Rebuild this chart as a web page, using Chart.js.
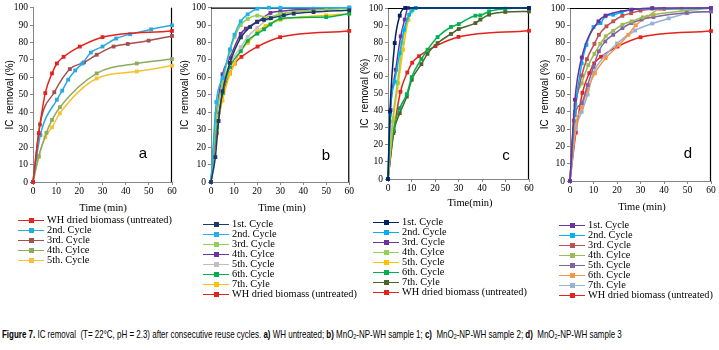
<!DOCTYPE html>
<html><head><meta charset="utf-8">
<script src="https://cdn.jsdelivr.net/npm/chart.js@4/dist/chart.umd.min.js"></script>
<style>
html,body{margin:0;padding:0;background:#fff;}
body{width:719px;height:350px;position:relative;overflow:hidden;}
canvas{position:absolute;}
.xt{position:absolute;font-family:'Liberation Serif',serif;font-size:10.5px;color:#000;white-space:nowrap;transform:translate(-50%,-50%);}
.leg{position:absolute;font-family:'Liberation Serif',serif;font-size:10.3px;line-height:10px;color:#000;}
.item{position:relative;height:10px;white-space:nowrap;}
.ln{position:absolute;left:0;top:4.5px;width:26px;height:1.5px;}
.mk{position:absolute;left:10.5px;top:2.7px;width:5px;height:5px;}
.tx{position:absolute;top:0;}
.letter{position:absolute;font-family:'Liberation Sans',sans-serif;font-size:15px;color:#000;transform:translate(-50%,-50%);}
#cap{position:absolute;left:2px;top:328px;font-family:'Liberation Sans Narrow','Liberation Sans',sans-serif;font-size:10.5px;color:#000;white-space:nowrap;transform-origin:0 0;}
#cap sub{font-size:7px;vertical-align:-1px;}
</style></head><body>
<div id="cap"><b>Figure 7.</b> IC removal &nbsp;(T= 22°C, pH = 2.3) after consecutive reuse cycles. <b>a)</b> WH untreated; <b>b)</b> MnO<sub>2</sub>-NP-WH sample 1; <b>c)</b> &nbsp;MnO<sub>2</sub>-NP-WH sample 2; <b>d)</b> &nbsp;MnO<sub>2</sub>-NP-WH sample 3</div>
<script>
// ---------- DATA ----------
const X_TICKS = [0,10,20,30,40,50,60];
const Y_TICKS = [0,10,20,30,40,50,60,70,80,90,100];

// untreated WH dried biomass (same in all panels)
const WH_T = [0,2.5,5.3,8.2,10.3,13.2,20.2,30,60];
const WH_V = [0,28,51,62.3,68,71.8,77.7,83.1,86.7];

// panel a
const A2_T = [0,3.2,10.3,12.6,15.2,18.2,21.3,25,30,35.9,41.9,51,60];
const A2_V = [0,27,47.2,52.4,58.7,64,68,74.3,77.7,82.3,84.8,87.6,89.9];
const A3_T = [0,3,9.2,15.9,22,27.5,34.8,40.9,49.9,60];
const A3_V = [0,33,51.5,64.8,68.6,73,77.7,79.2,81.1,83.8];
const A4_T = [0,2.5,5.8,8.2,11.6,27.5,44.8,60];
const A4_V = [0,14.9,28.2,35.6,42.9,62.3,68,70.5];
const A5_T = [0,2.5,5.3,8.2,11.6,27.5,44.8,60];
const A5_V = [0,14.3,25.7,31.4,39.4,59.4,63.4,66.7];

// panel b
const B1_T = [0,1.9,3.3,5,8.2,13,17,20,23,26,31.6,35.9,44.5,60];
const B1_V = [0,14.3,35,52,68.3,83,89,92,93,94,95.6,96.6,97.5,98.5];
const B2_T = [0,2.3,5,8.2,10.2,12.9,15.9,20.1,25.1,30.1,60];
const B2_V = [0,45.9,59.7,76.1,84.5,92.2,96.2,99.4,100,100,100];
const B3_T = [0,2.4,5,8.2,10.2,12.9,15.9,20.1,25.1,30.1,50,60];
const B3_V = [0,38,57,75,83,90,93.5,95.5,94.5,96.5,99,99.5];
const B4_T = [0,2.4,5,8.2,12.9,15.1,20.1,25.8,30.1,44.5,60];
const B4_V = [0,39,61.8,71.3,85,88,91.8,97,98,99.4,100];
const B5_T = [0,2.4,5,8.2,12.9,15.9,20.1,25.1,30.1,50,60];
const B5_V = [0,37,56.4,67.9,77.4,83.2,88.5,93.7,96.2,99.4,100];
const B6_T = [0,2.4,5,8.2,12.9,15.9,20.1,23,25.8,30.1,50,60];
const B6_V = [0,31.5,51,66,75,81,85.1,87.6,90.4,93.7,94.6,96.6];
const B7_T = [0,2.4,5,8.2,10.2,12.9,15.9,20.1,23.7,30.1,50,60];
const B7_V = [0,30.6,46.8,62,67.9,75.5,79.7,86,89.5,93.1,95.6,96.6];

// panel c
const C1_T = [0,0.85,2.85,5,7.3,60];
const C1_V = [0,39.5,79.5,95.5,100,100];
const C2_T = [0,0.85,2.85,5,6.8,9,10.4,11.8,60];
const C2_V = [0,37.5,57,73.6,87.3,96.1,99,100,100];
const C3_T = [0,1.1,3.3,5.4,7.1,8.5,60];
const C3_V = [0,40.4,63.9,83.4,93.2,100,100];
const C4_T = [0,1.9,4,6.1,8.3,10,11.8,60];
const C4_V = [0,33.6,56,79.5,93.2,98,100,100];
const C5_T = [0,2.3,4.4,6.4,8.7,10,11.8,60];
const C5_V = [0,35.5,56,75.6,93.2,98,100,100];
const C6_T = [0,2.3,5,8,10.1,14.2,16.8,21.1,26.8,30.1,37.2,39.3,43,49.9,60];
const C6_V = [0,28.7,41.4,49.6,59.6,70.1,75.6,83,88.9,90.6,95.5,95.7,98,99.6,100];
const C7_T = [0,2.3,5,8,10.1,14.2,16.8,21.1,26.8,30.1,37.2,39.3,43,49.9,60];
const C7_V = [0,26.8,38.5,48.2,58,67.2,73.2,79.5,84.8,87.7,91.2,93.2,96.1,97.7,98];

// panel d
const D1_T = [0,2.1,5,12.1,15.2,26.2,35,60];
const D1_V = [0,47,71.4,92.3,95.6,99,100,100];
const D2_T = [0,2.1,5,7,10,13,15,18.4,22,26,35,60];
const D2_V = [0,40,68,78.7,89,91.3,95.2,96.1,97.7,99,99.6,99.8];
const D3_T = [0,1.6,5,7.2,10.4,12.3,15.5,18.4,22.3,26,30,40,60];
const D3_V = [0,35,61,70.4,79.3,84.5,89.4,92.3,95.5,97,98.5,99.5,100];
const D4_T = [0,2.3,5,7.8,10.4,12.9,15.2,18.4,22.3,26.2,31,35.5,60];
const D4_V = [0,44,56.5,67,73.5,79.3,83.6,86.8,90.3,92.3,94.6,96.1,100];
const D5_T = [0,2,5,7.5,10,12.3,15,18.4,22.3,26.2,30.5,35.5,49.6,60];
const D5_V = [0,38,45,55.5,66,75,80.7,84.5,88.4,91.3,93.4,94.8,97.2,98];
const D6_T = [0,2.7,5,7.4,10.6,15.2,20.9,24.8,28,33,38.3,47.5,60];
const D6_V = [0,34,42.5,52.6,62.3,71,78.7,84.5,90,95,99.4,99.6,100];
const D7_T = [0,2.5,5,7.5,10,15,20,27.7,35,42,50,60];
const D7_V = [0,30,40,50,62.7,72.5,79.5,87,91,94,97,98];

const WH_LABEL = 'WH dried biomass (untreated)';
const CYCLE_LABELS = ['1st. Cycle','2nd. Cycle','3rd. Cycle','4th. Cylce','5th. Cycle','6th. Cycle','7th. Cyle'];
const X_TITLES = ['Time (min)','Time (min)','Time(min)','Time (min)'];
const Y_TITLE = 'IC  removal (%)';

// ---------- STYLE / LAYOUT ----------
const RED = '#E5231E';
const panels = [
  {letter:'a', xTitle:X_TITLES[0], left:0, w:180, h:200, padTop:7, padRight:8, yW:33, xH:18, frameTop:false,
   xt:[103,207], lt:[143,152], leg:{x:18,y:215},
   series:[[WH_LABEL,RED,WH_T,WH_V],[CYCLE_LABELS[1],'#27A9E1',A2_T,A2_V],[CYCLE_LABELS[2],'#A4504C',A3_T,A3_V],
           [CYCLE_LABELS[3],'#8FAA5C',A4_T,A4_V],[CYCLE_LABELS[4],'#F5C235',A5_T,A5_V]]},
  {letter:'b', xTitle:X_TITLES[1], left:175, w:180, h:200, padTop:7, padRight:4, yW:36, xH:18, frameTop:true,
   xt:[282,207], lt:[326,154], leg:{x:203,y:219},
   series:[[CYCLE_LABELS[0],'#1F3864',B1_T,B1_V],[CYCLE_LABELS[1],'#22B1EC',B2_T,B2_V],[CYCLE_LABELS[2],'#92D050',B3_T,B3_V],
           [CYCLE_LABELS[3],'#7030A0',B4_T,B4_V],[CYCLE_LABELS[4],'#BFBFBF',B5_T,B5_V],[CYCLE_LABELS[5],'#00B050',B6_T,B6_V],
           [CYCLE_LABELS[6],'#FFC000',B7_T,B7_V],[WH_LABEL,RED,WH_T,WH_V]]},
  {letter:'c', xTitle:X_TITLES[2], left:355, w:180, h:197, padTop:8, padRight:6, yW:33, xH:18, frameTop:true,
   xt:[470,202], lt:[506,154], leg:{x:373,y:217},
   series:[[CYCLE_LABELS[0],'#002060',C1_T,C1_V],[CYCLE_LABELS[1],'#00B0F0',C2_T,C2_V],[CYCLE_LABELS[2],'#7030A0',C3_T,C3_V],
           [CYCLE_LABELS[3],'#92D050',C4_T,C4_V],[CYCLE_LABELS[4],'#FFC000',C5_T,C5_V],[CYCLE_LABELS[5],'#00B050',C6_T,C6_V],
           [CYCLE_LABELS[6],'#4F6228',C7_T,C7_V],[WH_LABEL,RED,WH_T,WH_V]]},
  {letter:'d', xTitle:X_TITLES[3], left:535, w:184, h:199, padTop:8, padRight:8, yW:35, xH:18, frameTop:true,
   xt:[642,206], lt:[688,152], leg:{x:559,y:220},
   series:[[CYCLE_LABELS[0],'#7030A0',D1_T,D1_V],[CYCLE_LABELS[1],'#00B0F0',D2_T,D2_V],[CYCLE_LABELS[2],'#C0504D',D3_T,D3_V],
           [CYCLE_LABELS[3],'#9BBB59',D4_T,D4_V],[CYCLE_LABELS[4],'#8064A2',D5_T,D5_V],[CYCLE_LABELS[5],'#F79646',D6_T,D6_V],
           [CYCLE_LABELS[6],'#95B3D7',D7_T,D7_V],[WH_LABEL,RED,WH_T,WH_V]]}
];

const framePlugin = {
  id:'frame',
  beforeDatasetsDraw(chart, args, opts){
    const {ctx, chartArea:a} = chart;
    ctx.save(); ctx.strokeStyle = '#000'; ctx.lineWidth = 1.2;
    ctx.beginPath();
    if (opts.top){ ctx.moveTo(a.left, a.top+0.5); ctx.lineTo(a.right, a.top+0.5); }
    ctx.moveTo(a.right-0.5, a.top); ctx.lineTo(a.right-0.5, a.bottom);
    ctx.stroke(); ctx.restore();
  }
};

panels.forEach(p => {
  const cv = document.createElement('canvas');
  cv.width = p.w; cv.height = p.h;
  cv.style.left = p.left+'px'; cv.style.top = '0px';
  cv.style.width = p.w+'px'; cv.style.height = p.h+'px';
  document.body.appendChild(cv);

  const datasets = p.series.map(s => ({
    label:s[0], borderColor:s[1], backgroundColor:s[1],
    data:s[2].map((t,i)=>({x:t, y:s[3][i]})),
    borderWidth:1.5, pointStyle:'rect', pointRadius:2.7, pointBorderWidth:0,
    cubicInterpolationMode:'monotone', clip:false
  }));

  new Chart(cv, {
    type:'line',
    data:{datasets},
    plugins:[framePlugin],
    options:{
      responsive:false, animation:false, devicePixelRatio:1, events:[],
      layout:{padding:{top:p.padTop, right:p.padRight, left:0, bottom:0}, autoPadding:false},
      plugins:{legend:{display:false}, tooltip:{enabled:false}, frame:{top:p.frameTop}},
      scales:{
        x:{type:'linear', min:0, max:60,
           afterBuildTicks(s){ s.ticks = X_TICKS.map(v=>({value:v})); },
           afterFit(s){ s.height = p.xH; },
           ticks:{font:{family:'Liberation Serif', size:9.5}, color:'#000', padding:1, maxRotation:0},
           grid:{drawOnChartArea:false, drawTicks:true, tickLength:3, color:'#868686'},
           border:{color:'#868686', width:1}},
        y:{min:0, max:100,
           afterBuildTicks(s){ s.ticks = Y_TICKS.map(v=>({value:v})); },
           afterFit(s){ s.width = p.yW; },
           ticks:{font:{family:'Liberation Serif', size:9.5}, color:'#000', padding:2},
           grid:{drawOnChartArea:false, drawTicks:true, tickLength:3, color:'#868686'},
           border:{color:'#868686', width:1},
           title:{display:true, text:Y_TITLE, font:{family:'Liberation Sans', size:10}, color:'#000', padding:{top:4,bottom:0}}}
      }
    }
  });

  const xt = document.createElement('div'); xt.className='xt'; xt.textContent = p.xTitle;
  xt.style.left = p.xt[0]+'px'; xt.style.top = p.xt[1]+'px'; document.body.appendChild(xt);
  const lt = document.createElement('div'); lt.className='letter'; lt.textContent = p.letter;
  lt.style.left = p.lt[0]+'px'; lt.style.top = p.lt[1]+'px'; document.body.appendChild(lt);
  const lg = document.createElement('div'); lg.className='leg';
  lg.style.left = p.leg.x+'px'; lg.style.top = p.leg.y+'px';
  p.series.forEach(s => {
    const it = document.createElement('div'); it.className='item';
    const ln = document.createElement('span'); ln.className='ln'; ln.style.background = s[1];
    const mk = document.createElement('span'); mk.className='mk'; mk.style.background = s[1];
    const tx = document.createElement('span'); tx.className='tx'; tx.style.left = '29px'; tx.textContent = s[0];
    it.appendChild(ln); it.appendChild(mk); it.appendChild(tx); lg.appendChild(it);
  });
  document.body.appendChild(lg);
});

const cap = document.getElementById('cap');
const cw = cap.getBoundingClientRect().width;
cap.style.transform = 'scaleX(' + (620/cw).toFixed(3) + ')';
</script>
</body></html>
